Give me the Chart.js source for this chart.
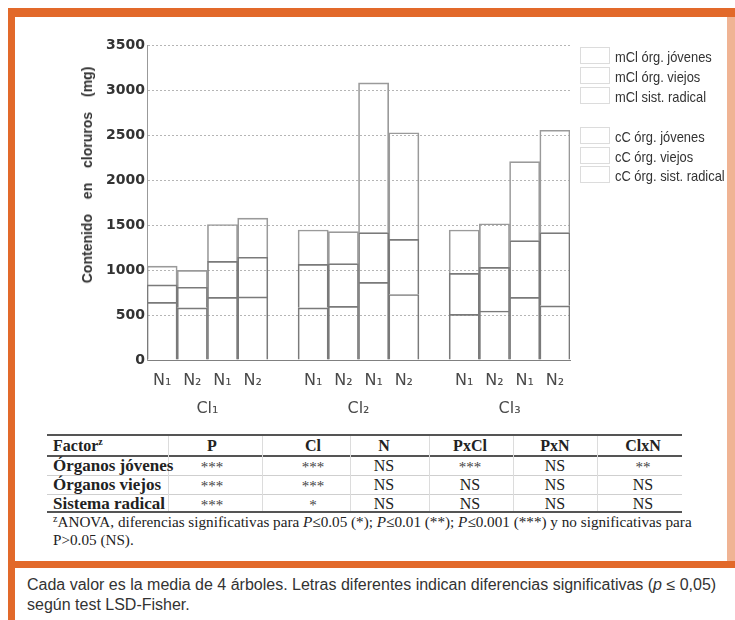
<!DOCTYPE html>
<html>
<head>
<meta charset="utf-8">
<script src="https://cdn.jsdelivr.net/npm/chart.js@4.4.1/dist/chart.umd.min.js"></script>
<style>
  html, body { margin:0; padding:0; background:#fff; }
  #root { position:relative; width:735px; height:620px; overflow:hidden; background:#fff; }
  .abs { position:absolute; white-space:nowrap; }
  .or { position:absolute; background:#e2692a; }
  canvas { position:absolute; left:0; top:0; }
  .serif { font-family:"Liberation Serif","Times New Roman",serif; color:#222; }
  .narrow { font-family:"Liberation Sans",Arial,sans-serif; color:#333; }
</style>
</head>
<body>
<div id="root">
  <div class="or" style="left:8px;top:8px;width:727px;height:9px"></div>
  <div class="or" style="left:8px;top:8px;width:7px;height:612px"></div>
  <div class="or" style="left:727px;top:8px;width:8px;height:560px;opacity:0.5"></div>
  <div class="or" style="left:8px;top:561px;width:727px;height:7px"></div>
  <canvas id="c" width="735" height="430"></canvas>
</div>
<script>
// ---------------- data ----------------
const groups = ['Cl₁', 'Cl₂', 'Cl₃'];
const nLevels = ['N₁', 'N₂', 'N₁', 'N₂'];        // first pair mCl, second pair cC
const seriesLabels = ['mCl órg. jóvenes', 'mCl órg. viejos', 'mCl sist. radical',
                      'cC órg. jóvenes', 'cC órg. viejos', 'cC órg. sist. radical'];
// values per group (Cl1 N1, Cl1 N2, Cl2 N1, Cl2 N2, Cl3 N1, Cl3 N2), mg
const mClJovenes = [209, 187, 382, 356, 481, 485];
const mClViejos  = [194, 228, 482, 475, 456, 485];
const mClRadical = [640, 580, 580, 595, 507, 544];
const cCJovenes  = [411, 435, 1664, 1184, 879, 1138];
const cCViejos   = [400, 441, 552, 613, 631, 813];
const cCRadical  = [695, 701, 863, 728, 695, 602];
const yTicks = [0, 500, 1000, 1500, 2000, 2500, 3000, 3500];
const yTitle = 'Contenido en cloruros (mg)';

const tableHead = ['Factor', 'P', 'Cl', 'N', 'PxCl', 'PxN', 'ClxN'];
const tableRows = [
  ['Órganos jóvenes', '***', '***', 'NS', '***', 'NS', '**'],
  ['Órganos viejos',  '***', '***', 'NS', 'NS',  'NS', 'NS'],
  ['Sistema radical', '***', '*',   'NS', 'NS',  'NS', 'NS']
];
const captionLines = [
  'Cada valor es la media de 4 árboles. Letras diferentes indican diferencias significativas (<i>p</i> ≤ 0,05)',
  'según test LSD-Fisher.'
];

// ---------------- build categories ----------------
const labels = [];
const groupCenters = [];
groups.forEach((g, gi) => {
  const start = labels.length;
  nLevels.forEach(n => labels.push(n));
  groupCenters.push(start + nLevels.length / 2);
  if (gi < groups.length - 1) labels.push('');
});
function place(vals, pairStart) {
  const out = new Array(labels.length).fill(null);
  groups.forEach((g, gi) => {
    const base = gi * (nLevels.length + 1) + pairStart;
    out[base] = vals[gi * 2];
    out[base + 1] = vals[gi * 2 + 1];
  });
  return out;
}
const seriesData = [
  place(mClJovenes, 0), place(mClViejos, 0), place(mClRadical, 0),
  place(cCJovenes, 2), place(cCViejos, 2), place(cCRadical, 2)
];
// stacking order bottom -> top : radical, viejos, jóvenes
const order = [2, 1, 0, 5, 4, 3];
const datasets = order.map(i => ({
  label: seriesLabels[i],
  data: seriesData[i],
  stack: 's',
  backgroundColor: 'rgba(255,255,255,0)',
  borderColor: (i === 0 || i === 3) ? '#9a9a9a' : '#7a7a7a',
  borderWidth: 1,
  categoryPercentage: 1,
  barPercentage: 1
}));

new Chart(document.getElementById('c'), {
  type: 'bar',
  data: { labels, datasets },
  options: {
    responsive: false,
    devicePixelRatio: 1,
    animation: false,
    layout: { padding: { left: 87, right: 165, top: 45, bottom: 12 } },
    plugins: { legend: { display: false }, tooltip: { enabled: false } },
    scales: {
      x: {
        stacked: true,
        position: 'bottom',
        grid: { display: false, drawTicks: false },
        border: { display: true, color: '#808080', width: 1 },
        ticks: { autoSkip: false, maxRotation: 0, padding: 11,
                 font: { family: 'DejaVu Sans', size: 16 }, color: '#4a4a4a' },
        afterFit: s => { s.height = 30; }
      },
      x2: {
        type: 'linear', position: 'bottom', min: 0, max: labels.length, weight: 1,
        offset: false,
        grid: { display: false, drawTicks: false, offset: false },
        border: { display: false },
        afterBuildTicks: s => { s.ticks = groupCenters.map(v => ({ value: v })); },
        ticks: { autoSkip: false, maxRotation: 0, padding: 9,
                 font: { family: 'DejaVu Sans', size: 16 }, color: '#4a4a4a',
                 callback: v => { const k = groupCenters.indexOf(v); return k >= 0 ? groups[k] : ''; } },
        afterFit: s => { s.height = 28; }
      },
      y: {
        stacked: true, min: 0, max: 3500,
        afterBuildTicks: s => { s.ticks = yTicks.map(v => ({ value: v })); },
        grid: { color: '#b5b5b5', lineWidth: 1, drawTicks: false },
        border: { display: true, color: '#999', width: 1, dash: [2, 2] },
        ticks: { padding: 2, font: { family: 'DejaVu Sans', size: 14, weight: 'bold' }, color: '#333',
                 callback: v => String(v) },
        afterFit: s => { s.width = 60; }
      }
    }
  }
});

// ---------------- HTML parts: y title, legend, table, caption ----------------
const root = document.getElementById('root');
function addText(html, x, cy, cls, style, align) {
  const d = document.createElement('div');
  d.className = 'abs ' + (cls || '');
  d.innerHTML = html;
  d.style.cssText += style || '';
  d.style.lineHeight = '20px';
  d.style.top = (cy - 10) + 'px';
  d.style.left = x + 'px';
  if (align === 'center') d.style.transform = 'translateX(-50%)';
  root.appendChild(d);
  return d;
}
function addLine(x, y, w, h, color) {
  const d = document.createElement('div');
  d.className = 'abs';
  d.style.cssText += `left:${x}px;top:${y}px;width:${w}px;height:${h}px;background:${color}`;
  root.appendChild(d);
}

// y title
const yt = document.createElement('div');
yt.className = 'abs';
yt.textContent = yTitle;
yt.style.cssText += 'font-family:"Liberation Sans",Arial,sans-serif;font-weight:bold;font-size:14px;color:#333;word-spacing:11px;line-height:16px;left:87px;top:175px;transform:translate(-50%,-50%) rotate(-90deg);';
root.appendChild(yt);

// legend
const legendTops = [47, 67, 87, 127, 147, 166];
seriesLabels.forEach((lab, i) => {
  const b = document.createElement('div');
  b.className = 'abs';
  b.style.cssText += `left:580px;top:${legendTops[i]}px;width:30px;height:17px;box-sizing:border-box;border:1px solid #dcdcdc;background:#fff`;
  root.appendChild(b);
  addText(lab, 615, legendTops[i] + 9.5, 'narrow', 'font-size:15px;transform-origin:0 50%;transform:scaleX(0.86);');
});

// table
const colX = [53, 212, 313, 384, 470, 555, 643];
const rowCY = [445.5, 465.5, 485, 504];
addLine(47, 434, 635, 2, '#555');
addLine(47, 455, 635, 1.5, '#555');
addLine(47, 474.5, 635, 1, '#cfcfcf');
addLine(47, 494, 635, 1, '#cfcfcf');
addLine(47, 511, 635, 2, '#555');
[168, 262, 350, 429, 513, 597].forEach(x => addLine(x, 436, 1, 75, '#dcdcdc'));
tableHead.forEach((h, c) => {
  const html = c === 0 ? h + '<sup style="font-size:10px;vertical-align:6px;line-height:0">z</sup>' : h;
  addText(html, colX[c], rowCY[0], 'serif', 'font-size:16px;font-weight:bold;', c === 0 ? 'left' : 'center');
});
tableRows.forEach((row, r) => {
  row.forEach((v, c) => {
    if (c === 0) addText(v, colX[0], rowCY[r + 1], 'serif', 'font-size:17px;font-weight:bold;');
    else if (v.indexOf('*') >= 0) addText(v, colX[c], rowCY[r + 1] + 1, 'serif', 'font-size:15px;color:#444;', 'center');
    else addText(v, colX[c], rowCY[r + 1], 'serif', 'font-size:16px;', 'center');
  });
});
addText('<sup style="font-size:10px;vertical-align:5px;line-height:0">z</sup>ANOVA, diferencias significativas para <i>P</i>≤0.05 (*); <i>P</i>≤0.01 (**); <i>P</i>≤0.001 (***) y no significativas para',
        53, 522, 'serif', 'font-size:15.2px;');
addText('P&gt;0.05 (NS).', 53, 540, 'serif', 'font-size:15.2px;');

// caption
addText(captionLines[0], 27, 585, 'narrow', 'font-size:16px;');
addText(captionLines[1], 27, 605, 'narrow', 'font-size:16px;');
</script>
</body>
</html>
